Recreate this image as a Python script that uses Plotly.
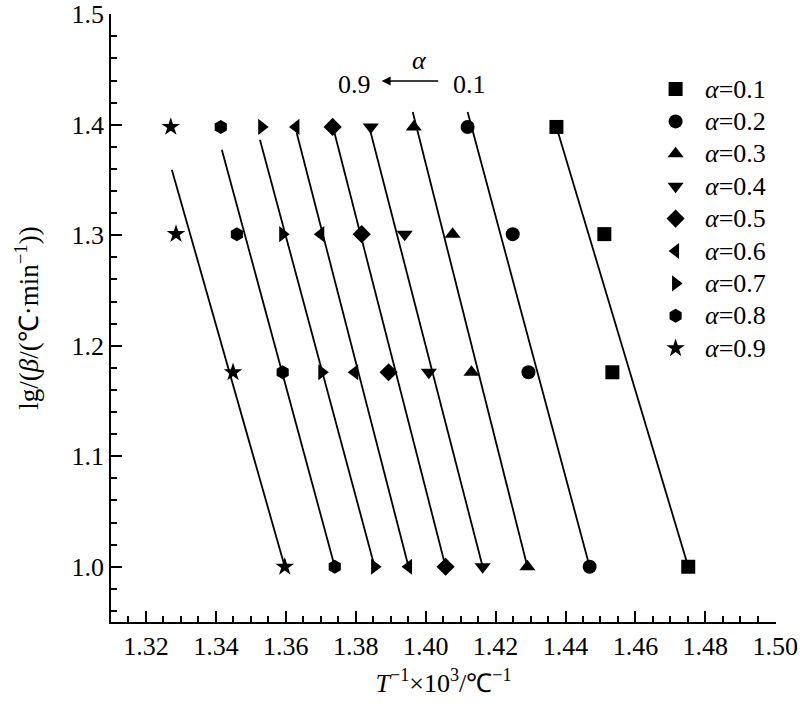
import plotly.graph_objects as go

# conversion degree alpha for each series
alphas = ["0.1", "0.2", "0.3", "0.4", "0.5", "0.6", "0.7", "0.8", "0.9"]
symbols = ["square", "circle", "triangle-up", "triangle-down", "diamond",
           "triangle-left", "triangle-right", "hexagon", "star"]

# lg(beta) for heating rates 25, 20, 15, 10 C/min
lg_beta = [1.398, 1.301, 1.176, 1.0]

# 1000/T at each heating rate, one list per alpha
x_a01 = [1.4374, 1.4511, 1.4534, 1.4751]
x_a02 = [1.4120, 1.4249, 1.4294, 1.4469]
x_a03 = [1.3966, 1.4077, 1.4131, 1.4291]
x_a04 = [1.3843, 1.3940, 1.4009, 1.4163]
x_a05 = [1.3734, 1.3817, 1.3894, 1.4057]
x_a06 = [1.3629, 1.3700, 1.3797, 1.3951]
x_a07 = [1.3531, 1.3591, 1.3703, 1.3854]
x_a08 = [1.3414, 1.3460, 1.3591, 1.3740]
x_a09 = [1.3271, 1.3286, 1.3449, 1.3597]
x_points = [x_a01, x_a02, x_a03, x_a04, x_a05, x_a06, x_a07, x_a08, x_a09]

# fitted line ends (top end x / y, bottom end at lg_beta = 1.0)
fit_x_top = [1.4374, 1.4120, 1.3963, 1.3840, 1.3734, 1.3631, 1.3526, 1.3417, 1.3274]
fit_y_top = [1.398, 1.4116, 1.4116, 1.3963, 1.399, 1.3927, 1.3864, 1.3774, 1.3593]
fit_x_bot = [1.4751, 1.4469, 1.4291, 1.4163, 1.4057, 1.3951, 1.3854, 1.3740, 1.3597]
fit_y_bot = 1.0

font_family = "Liberation Serif, Times New Roman, serif"
fs = 26

fig = go.Figure()

for i, a in enumerate(alphas):
    fig.add_trace(go.Scatter(x=[fit_x_top[i], fit_x_bot[i]],
                             y=[fit_y_top[i], fit_y_bot],
                             mode='lines',
                             line=dict(color='black', width=1.8),
                             showlegend=False, hoverinfo='skip'))

for i, a in enumerate(alphas):
    fig.add_trace(go.Scatter(x=x_points[i], y=lg_beta,
                             mode='markers',
                             marker=dict(symbol=symbols[i], size=14, color='black',
                                         line=dict(width=0)),
                             name="<i>α</i>=" + a, showlegend=False))

# hand-made legend on a hidden 0..1 axis pair
leg_x = 0.849
leg_y = [(608 - 75 - 32.4 * i) / 608 for i in range(len(alphas))]
fig.add_trace(go.Scatter(x=[leg_x] * len(alphas), y=leg_y, xaxis='x2', yaxis='y2',
                         mode='markers',
                         marker=dict(symbol=symbols, size=14, color='black',
                                     line=dict(width=0)),
                         showlegend=False, hoverinfo='skip'))
for i, a in enumerate(alphas):
    fig.add_annotation(x=0.89, y=leg_y[i], xref='x2', yref='y2',
                       xanchor='left', yanchor='middle', showarrow=False,
                       text="<i>α</i>=" + a,
                       font=dict(family=font_family, size=fs, color='black'))

axis_style = dict(showline=True, linecolor='black', linewidth=1.5,
                  ticks='inside', ticklen=11, tickwidth=1.5, tickcolor='black',
                  showgrid=False, zeroline=False, mirror=False,
                  ticklabeloverflow='allow',
                  tickfont=dict(family=font_family, size=fs, color='black'),
                  minor=dict(ticks='inside', ticklen=6, tickwidth=1.5,
                             tickcolor='black', showgrid=False))

fig.update_layout(
    width=800, height=707,
    paper_bgcolor='white', plot_bgcolor='white',
    margin=dict(l=111, r=24, t=14, b=85, autoexpand=False),
    font=dict(family=font_family, color='black'),
    xaxis=dict(range=[1.31, 1.5002], dtick=0.02, tick0=1.30, tickformat='.2f',
               title=dict(text="<i>T</i><sup>−1</sup>×10<sup>3</sup>/℃<sup>−1</sup>",
                          font=dict(family=font_family, size=fs), standoff=14),
               **axis_style),
    yaxis=dict(range=[0.95, 1.5002], dtick=0.1, tick0=1.0, tickformat='.1f',
               title=dict(text="lg/(<i>β</i>/(℃·min<sup>−1</sup>))",
                          font=dict(family=font_family, size=27), standoff=25),
               **axis_style),
    xaxis2=dict(range=[0, 1], overlaying='x', visible=False, fixedrange=True),
    yaxis2=dict(range=[0, 1], overlaying='y', visible=False, fixedrange=True),
    showlegend=False,
)

fig.update_xaxes(minor=dict(dtick=0.01), selector=dict(anchor='y'))
fig.update_yaxes(minor=dict(dtick=0.05), selector=dict(anchor='x'))
fig.update_layout(xaxis2=dict(anchor='y2'), yaxis2=dict(anchor='x2'))

fig.add_annotation(x=1.3983, y=1.4585, xref='x', yref='y', text="<i>α</i>",
                   showarrow=False, font=dict(family=font_family, size=fs))
fig.add_annotation(x=1.3797, y=1.436, xref='x', yref='y', text="0.9",
                   showarrow=False, font=dict(family=font_family, size=fs))
fig.add_annotation(x=1.4126, y=1.436, xref='x', yref='y', text="0.1",
                   showarrow=False, font=dict(family=font_family, size=fs))
fig.add_annotation(x=1.3874, y=1.4396, ax=1.404, ay=1.4396,
                   xref='x', yref='y', axref='x', ayref='y', text="",
                   showarrow=True, arrowhead=2, arrowsize=1.2, arrowwidth=1.5,
                   arrowcolor='black')

# drop the default page margin so the figure sits at the window corner
fig.write_html("out.html", config={'displayModeBar': False},
               post_script="document.body.style.margin='0';")
